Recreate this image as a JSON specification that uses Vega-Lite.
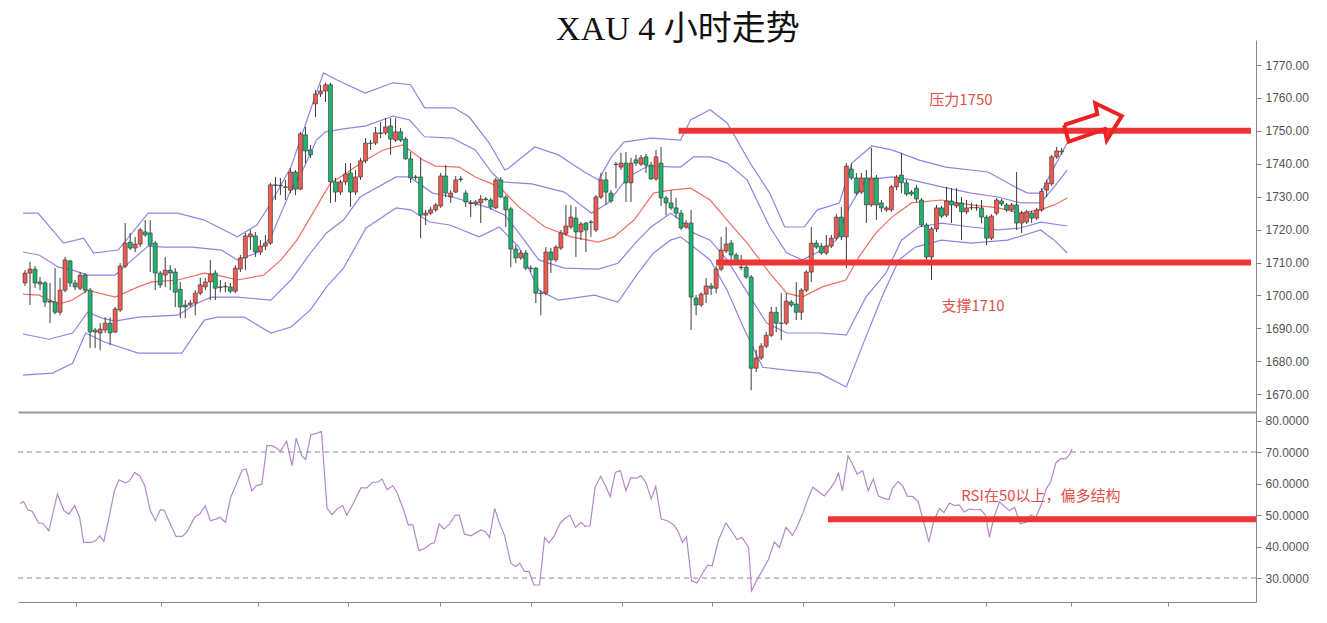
{
"$schema":"https://vega.github.io/schema/vega-lite/v6.json",
"background":"white",
"padding":{"left":17,"top":13,"right":0,"bottom":0},
"title":{"text":"XAU 4 小时走势","fontSize":34,"font":"Liberation Serif, Noto Sans CJK SC","fontWeight":"normal","color":"#111","anchor":"middle","offset":-7,"dx":15},
"spacing":0,
"config":{"view":{"stroke":null},"axis":{"labelFontSize":12,"labelFont":"Liberation Sans","labelColor":"#555","tickColor":"#888","domainColor":"#888","grid":false,"title":null,"labelPadding":4,"tickSize":5}},
"datasets":{
"candles":[
{"i":0,"o":1703.8,"h":1707.7,"l":1702.9,"c":1706.8},{"i":1,"o":1706.8,"h":1710.2,"l":1697.1,"c":1708.0},{"i":2,"o":1708.0,"h":1708.9,"l":1702.3,"c":1703.8},{"i":3,"o":1704.1,"h":1705.6,"l":1701.6,"c":1703.5},{"i":4,"o":1703.8,"h":1704.4,"l":1696.5,"c":1698.0},{"i":5,"o":1698.3,"h":1703.8,"l":1691.6,"c":1698.0},{"i":6,"o":1698.0,"h":1708.3,"l":1694.3,"c":1694.9},{"i":7,"o":1694.9,"h":1705.3,"l":1694.0,"c":1701.6},{"i":8,"o":1701.6,"h":1711.7,"l":1701.0,"c":1710.8},{"i":9,"o":1710.5,"h":1710.8,"l":1702.6,"c":1703.8},
{"i":10,"o":1703.8,"h":1704.7,"l":1701.6,"c":1702.6},{"i":11,"o":1702.2,"h":1707.1,"l":1701.6,"c":1706.2},{"i":12,"o":1706.2,"h":1706.8,"l":1700.7,"c":1701.6},{"i":13,"o":1701.6,"h":1702.3,"l":1684.0,"c":1688.9},{"i":14,"o":1689.5,"h":1690.1,"l":1684.0,"c":1688.9},{"i":15,"o":1688.6,"h":1691.6,"l":1683.4,"c":1689.8},{"i":16,"o":1689.5,"h":1693.4,"l":1688.6,"c":1691.6},{"i":17,"o":1691.6,"h":1693.4,"l":1684.9,"c":1688.6},{"i":18,"o":1688.9,"h":1696.5,"l":1688.6,"c":1695.9},{"i":19,"o":1695.6,"h":1709.8,"l":1695.0,"c":1708.9},
{"i":20,"o":1708.9,"h":1722.0,"l":1708.3,"c":1715.9},{"i":21,"o":1716.2,"h":1719.0,"l":1713.8,"c":1714.4},{"i":22,"o":1714.4,"h":1717.8,"l":1713.2,"c":1715.6},{"i":23,"o":1715.6,"h":1720.5,"l":1714.7,"c":1719.9},{"i":24,"o":1719.3,"h":1722.9,"l":1717.8,"c":1718.4},{"i":25,"o":1719.0,"h":1722.9,"l":1707.1,"c":1715.3},{"i":26,"o":1715.9,"h":1716.5,"l":1701.6,"c":1706.8},{"i":27,"o":1706.8,"h":1707.4,"l":1702.3,"c":1703.2},{"i":28,"o":1706.2,"h":1711.7,"l":1702.6,"c":1707.7},{"i":29,"o":1707.7,"h":1709.2,"l":1701.6,"c":1706.8},
{"i":30,"o":1707.1,"h":1708.3,"l":1696.5,"c":1701.0},{"i":31,"o":1701.9,"h":1704.1,"l":1693.1,"c":1696.5},{"i":32,"o":1697.1,"h":1698.6,"l":1693.1,"c":1696.5},{"i":33,"o":1697.1,"h":1698.6,"l":1696.5,"c":1697.7},{"i":34,"o":1697.7,"h":1701.6,"l":1694.0,"c":1700.7},{"i":35,"o":1700.7,"h":1705.3,"l":1700.1,"c":1703.2},{"i":36,"o":1702.6,"h":1705.3,"l":1701.6,"c":1704.1},{"i":37,"o":1704.1,"h":1710.8,"l":1698.6,"c":1706.5},{"i":38,"o":1706.8,"h":1707.7,"l":1698.6,"c":1702.2},{"i":39,"o":1702.6,"h":1704.7,"l":1701.0,"c":1702.4},
{"i":40,"o":1702.6,"h":1704.1,"l":1701.0,"c":1702.8},{"i":41,"o":1702.6,"h":1703.8,"l":1700.7,"c":1701.3},{"i":42,"o":1701.3,"h":1709.2,"l":1700.7,"c":1708.3},{"i":43,"o":1708.0,"h":1712.3,"l":1707.1,"c":1711.4},{"i":44,"o":1711.4,"h":1719.0,"l":1707.7,"c":1718.1},{"i":45,"o":1717.8,"h":1719.9,"l":1713.8,"c":1718.7},{"i":46,"o":1718.1,"h":1719.3,"l":1711.7,"c":1713.2},{"i":47,"o":1713.2,"h":1716.8,"l":1712.3,"c":1715.0},{"i":48,"o":1715.0,"h":1718.4,"l":1713.8,"c":1715.9},{"i":49,"o":1715.9,"h":1734.2,"l":1715.3,"c":1733.6},
{"i":50,"o":1733.6,"h":1736.0,"l":1729.0,"c":1733.4},{"i":51,"o":1733.3,"h":1735.7,"l":1730.5,"c":1733.5},{"i":52,"o":1733.0,"h":1735.1,"l":1729.0,"c":1732.8},{"i":53,"o":1732.0,"h":1738.7,"l":1731.1,"c":1737.5},{"i":54,"o":1737.5,"h":1738.1,"l":1730.5,"c":1732.3},{"i":55,"o":1732.3,"h":1749.7,"l":1732.0,"c":1749.1},{"i":56,"o":1748.8,"h":1751.2,"l":1740.2,"c":1743.9},{"i":57,"o":1744.2,"h":1745.7,"l":1741.8,"c":1742.7},{"i":58,"o":1758.2,"h":1762.4,"l":1754.2,"c":1761.2},{"i":59,"o":1761.2,"h":1764.0,"l":1760.3,"c":1762.1},
{"i":60,"o":1762.1,"h":1764.6,"l":1758.8,"c":1764.0},{"i":61,"o":1764.0,"h":1764.6,"l":1728.1,"c":1734.5},{"i":62,"o":1734.5,"h":1735.7,"l":1728.4,"c":1731.4},{"i":63,"o":1731.4,"h":1735.1,"l":1730.5,"c":1734.5},{"i":64,"o":1734.5,"h":1740.2,"l":1733.6,"c":1736.9},{"i":65,"o":1737.2,"h":1740.2,"l":1726.9,"c":1731.4},{"i":66,"o":1731.4,"h":1738.1,"l":1730.5,"c":1736.0},{"i":67,"o":1736.0,"h":1741.8,"l":1735.1,"c":1740.9},{"i":68,"o":1740.9,"h":1747.8,"l":1740.2,"c":1746.3},{"i":69,"o":1746.3,"h":1747.2,"l":1744.2,"c":1746.2},
{"i":70,"o":1746.3,"h":1751.2,"l":1745.7,"c":1749.4},{"i":71,"o":1749.4,"h":1752.7,"l":1747.8,"c":1749.2},{"i":72,"o":1749.4,"h":1753.9,"l":1748.8,"c":1751.2},{"i":73,"o":1751.5,"h":1753.9,"l":1742.7,"c":1747.5},{"i":74,"o":1747.2,"h":1753.9,"l":1746.6,"c":1749.7},{"i":75,"o":1749.7,"h":1750.9,"l":1746.6,"c":1747.2},{"i":76,"o":1747.5,"h":1748.1,"l":1741.2,"c":1741.5},{"i":77,"o":1741.5,"h":1743.6,"l":1734.2,"c":1735.7},{"i":78,"o":1736.0,"h":1736.6,"l":1735.1,"c":1735.8},{"i":79,"o":1736.0,"h":1741.8,"l":1717.4,"c":1724.4},
{"i":80,"o":1724.4,"h":1726.0,"l":1721.4,"c":1725.0},{"i":81,"o":1725.0,"h":1726.9,"l":1724.4,"c":1726.0},{"i":82,"o":1726.0,"h":1728.1,"l":1725.4,"c":1727.5},{"i":83,"o":1727.2,"h":1737.2,"l":1726.6,"c":1736.3},{"i":84,"o":1736.3,"h":1739.6,"l":1729.9,"c":1731.1},{"i":85,"o":1729.9,"h":1732.0,"l":1728.1,"c":1731.1},{"i":86,"o":1731.4,"h":1736.3,"l":1731.1,"c":1735.1},{"i":87,"o":1735.4,"h":1736.3,"l":1734.5,"c":1735.2},{"i":88,"o":1731.1,"h":1732.0,"l":1726.9,"c":1728.4},{"i":89,"o":1728.1,"h":1729.0,"l":1723.8,"c":1727.9},
{"i":90,"o":1727.8,"h":1729.0,"l":1727.2,"c":1728.4},{"i":91,"o":1728.1,"h":1730.5,"l":1722.0,"c":1729.3},{"i":92,"o":1729.3,"h":1729.9,"l":1728.7,"c":1729.1},{"i":93,"o":1729.0,"h":1729.6,"l":1726.0,"c":1726.9},{"i":94,"o":1726.6,"h":1735.7,"l":1726.3,"c":1735.1},{"i":95,"o":1735.1,"h":1736.0,"l":1729.6,"c":1729.9},{"i":96,"o":1729.9,"h":1730.5,"l":1720.8,"c":1726.0},{"i":97,"o":1726.3,"h":1726.9,"l":1708.6,"c":1714.1},{"i":98,"o":1714.1,"h":1715.3,"l":1709.8,"c":1711.4},{"i":99,"o":1711.4,"h":1713.8,"l":1710.8,"c":1712.9},
{"i":100,"o":1712.9,"h":1713.8,"l":1707.7,"c":1708.3},{"i":101,"o":1708.3,"h":1709.2,"l":1707.1,"c":1708.2},{"i":102,"o":1708.3,"h":1708.6,"l":1697.7,"c":1700.7},{"i":103,"o":1700.7,"h":1701.6,"l":1694.0,"c":1700.6},{"i":104,"o":1700.7,"h":1714.7,"l":1700.1,"c":1713.2},{"i":105,"o":1713.2,"h":1714.4,"l":1706.8,"c":1710.8},{"i":106,"o":1710.8,"h":1715.3,"l":1710.2,"c":1714.7},{"i":107,"o":1714.4,"h":1719.9,"l":1713.8,"c":1719.0},{"i":108,"o":1718.7,"h":1727.5,"l":1718.1,"c":1721.1},{"i":109,"o":1720.8,"h":1727.5,"l":1720.2,"c":1723.8},
{"i":110,"o":1723.5,"h":1726.9,"l":1711.7,"c":1719.3},{"i":111,"o":1719.3,"h":1722.3,"l":1716.8,"c":1721.7},{"i":112,"o":1722.0,"h":1722.3,"l":1713.2,"c":1719.9},{"i":113,"o":1722.3,"h":1722.9,"l":1717.8,"c":1722.2},{"i":114,"o":1719.9,"h":1730.5,"l":1719.3,"c":1729.9},{"i":115,"o":1729.9,"h":1737.2,"l":1729.3,"c":1735.1},{"i":116,"o":1735.1,"h":1737.5,"l":1727.5,"c":1731.4},{"i":117,"o":1731.1,"h":1732.0,"l":1728.1,"c":1728.7},{"i":118,"o":1739.9,"h":1740.6,"l":1732.6,"c":1739.8},{"i":119,"o":1739.0,"h":1743.3,"l":1738.1,"c":1740.2},
{"i":120,"o":1740.2,"h":1743.6,"l":1728.4,"c":1734.2},{"i":121,"o":1734.2,"h":1741.8,"l":1728.4,"c":1740.2},{"i":122,"o":1741.2,"h":1742.7,"l":1739.3,"c":1740.2},{"i":123,"o":1739.9,"h":1742.7,"l":1739.3,"c":1741.8},{"i":124,"o":1742.1,"h":1743.0,"l":1737.2,"c":1739.6},{"i":125,"o":1739.6,"h":1740.6,"l":1735.1,"c":1735.4},{"i":126,"o":1735.4,"h":1744.2,"l":1734.8,"c":1742.1},{"i":127,"o":1740.2,"h":1745.1,"l":1727.2,"c":1729.6},{"i":128,"o":1729.6,"h":1730.2,"l":1724.4,"c":1728.1},{"i":129,"o":1728.1,"h":1732.0,"l":1726.0,"c":1726.6},
{"i":130,"o":1726.6,"h":1729.6,"l":1723.5,"c":1725.0},{"i":131,"o":1725.0,"h":1726.0,"l":1719.9,"c":1720.5},{"i":132,"o":1720.8,"h":1722.9,"l":1720.2,"c":1722.0},{"i":133,"o":1722.0,"h":1726.0,"l":1689.5,"c":1699.5},{"i":134,"o":1699.2,"h":1700.1,"l":1694.0,"c":1697.1},{"i":135,"o":1697.1,"h":1701.0,"l":1696.5,"c":1700.4},{"i":136,"o":1700.4,"h":1705.3,"l":1697.7,"c":1702.9},{"i":137,"o":1702.9,"h":1703.8,"l":1700.1,"c":1702.2},{"i":138,"o":1702.2,"h":1708.9,"l":1700.7,"c":1708.0},{"i":139,"o":1708.0,"h":1717.8,"l":1707.4,"c":1713.8},
{"i":140,"o":1713.5,"h":1720.8,"l":1712.9,"c":1715.6},{"i":141,"o":1715.9,"h":1716.8,"l":1710.8,"c":1712.3},{"i":142,"o":1712.3,"h":1712.9,"l":1709.2,"c":1709.8},{"i":143,"o":1708.6,"h":1712.3,"l":1707.7,"c":1708.5},{"i":144,"o":1708.6,"h":1709.2,"l":1705.0,"c":1705.6},{"i":145,"o":1705.6,"h":1706.2,"l":1671.2,"c":1677.9},{"i":146,"o":1677.9,"h":1683.4,"l":1676.7,"c":1681.0},{"i":147,"o":1681.0,"h":1685.5,"l":1680.4,"c":1684.6},{"i":148,"o":1684.6,"h":1688.9,"l":1684.0,"c":1687.9},{"i":149,"o":1687.9,"h":1696.5,"l":1687.4,"c":1694.9},
{"i":150,"o":1694.9,"h":1696.5,"l":1688.9,"c":1691.6},{"i":151,"o":1691.6,"h":1700.7,"l":1686.4,"c":1691.5},{"i":152,"o":1691.6,"h":1700.7,"l":1691.0,"c":1698.3},{"i":153,"o":1698.0,"h":1698.6,"l":1696.5,"c":1697.1},{"i":154,"o":1697.4,"h":1704.1,"l":1692.5,"c":1694.9},{"i":155,"o":1694.9,"h":1702.2,"l":1692.5,"c":1701.6},{"i":156,"o":1701.6,"h":1707.7,"l":1701.0,"c":1707.1},{"i":157,"o":1707.1,"h":1720.8,"l":1704.1,"c":1715.9},{"i":158,"o":1715.9,"h":1716.8,"l":1714.1,"c":1714.7},{"i":159,"o":1715.0,"h":1715.9,"l":1712.3,"c":1712.9},
{"i":160,"o":1712.9,"h":1718.4,"l":1712.3,"c":1715.0},{"i":161,"o":1715.0,"h":1718.4,"l":1714.4,"c":1717.4},{"i":162,"o":1717.4,"h":1724.7,"l":1716.8,"c":1723.8},{"i":163,"o":1723.8,"h":1726.9,"l":1716.8,"c":1717.8},{"i":164,"o":1717.8,"h":1740.2,"l":1708.3,"c":1739.3},{"i":165,"o":1738.4,"h":1740.2,"l":1735.1,"c":1735.7},{"i":166,"o":1735.7,"h":1737.2,"l":1730.5,"c":1731.1},{"i":167,"o":1731.4,"h":1737.2,"l":1730.8,"c":1735.7},{"i":168,"o":1735.7,"h":1738.1,"l":1722.0,"c":1727.5},{"i":169,"o":1727.5,"h":1744.8,"l":1726.9,"c":1735.7},
{"i":170,"o":1735.7,"h":1736.6,"l":1722.9,"c":1727.5},{"i":171,"o":1728.1,"h":1729.0,"l":1725.4,"c":1726.6},{"i":172,"o":1726.0,"h":1727.2,"l":1725.4,"c":1726.6},{"i":173,"o":1726.0,"h":1733.6,"l":1725.4,"c":1733.0},{"i":174,"o":1733.0,"h":1736.6,"l":1732.0,"c":1736.0},{"i":175,"o":1736.6,"h":1743.3,"l":1731.1,"c":1734.2},{"i":176,"o":1734.2,"h":1735.1,"l":1730.2,"c":1730.8},{"i":177,"o":1731.4,"h":1732.0,"l":1730.2,"c":1730.8},{"i":178,"o":1732.6,"h":1733.6,"l":1728.4,"c":1729.3},{"i":179,"o":1729.0,"h":1729.6,"l":1720.8,"c":1721.4},
{"i":180,"o":1721.4,"h":1722.0,"l":1710.8,"c":1711.7},{"i":181,"o":1711.7,"h":1720.8,"l":1704.7,"c":1720.2},{"i":182,"o":1720.2,"h":1727.5,"l":1719.3,"c":1726.6},{"i":183,"o":1726.6,"h":1727.2,"l":1723.5,"c":1724.1},{"i":184,"o":1724.4,"h":1733.0,"l":1723.8,"c":1728.7},{"i":185,"o":1728.7,"h":1732.6,"l":1722.0,"c":1727.5},{"i":186,"o":1727.2,"h":1732.6,"l":1726.6,"c":1728.1},{"i":187,"o":1728.1,"h":1729.9,"l":1716.8,"c":1725.4},{"i":188,"o":1725.4,"h":1729.0,"l":1724.7,"c":1726.6},{"i":189,"o":1726.6,"h":1728.1,"l":1726.0,"c":1726.7},
{"i":190,"o":1726.6,"h":1727.8,"l":1725.7,"c":1726.7},{"i":191,"o":1726.6,"h":1729.0,"l":1722.0,"c":1723.8},{"i":192,"o":1723.8,"h":1724.4,"l":1715.3,"c":1717.4},{"i":193,"o":1717.4,"h":1724.7,"l":1716.8,"c":1724.1},{"i":194,"o":1725.0,"h":1729.6,"l":1724.4,"c":1729.0},{"i":195,"o":1728.7,"h":1729.3,"l":1727.2,"c":1727.8},{"i":196,"o":1727.5,"h":1728.1,"l":1725.4,"c":1726.0},{"i":197,"o":1726.0,"h":1728.1,"l":1725.4,"c":1727.5},{"i":198,"o":1727.5,"h":1737.5,"l":1719.9,"c":1722.0},{"i":199,"o":1722.0,"h":1725.7,"l":1719.0,"c":1725.0},
{"i":200,"o":1722.3,"h":1726.0,"l":1721.7,"c":1725.4},{"i":201,"o":1725.0,"h":1725.7,"l":1722.0,"c":1723.5},{"i":202,"o":1723.5,"h":1726.6,"l":1722.9,"c":1726.0},{"i":203,"o":1726.0,"h":1732.6,"l":1725.4,"c":1731.6},{"i":204,"o":1732.0,"h":1735.1,"l":1729.9,"c":1734.2},{"i":205,"o":1733.9,"h":1742.7,"l":1733.3,"c":1742.1},{"i":206,"o":1742.1,"h":1745.1,"l":1741.5,"c":1743.9},{"i":207,"o":1743.6,"h":1744.8,"l":1742.7,"c":1743.9}
],
"bands":[
{"b":"u2","i":-0.4,"v":1725.0},{"b":"u2","i":2.6,"v":1725.0},{"b":"u2","i":7.7,"v":1715.9},{"b":"u2","i":11.7,"v":1717.4},{"b":"u2","i":13.7,"v":1712.9},{"b":"u2","i":18.6,"v":1713.8},{"b":"u2","i":24.6,"v":1725.0},{"b":"u2","i":30.5,"v":1725.0},{"b":"u2","i":35.8,"v":1722.9},{"b":"u2","i":42.4,"v":1717.8},{"b":"u2","i":46.3,"v":1721.4},{"b":"u2","i":49.1,"v":1728.1},{"b":"u2","i":53.1,"v":1739.0},{"b":"u2","i":57.0,"v":1756.4},{"b":"u2","i":59.6,"v":1767.6},{"b":"u2","i":62.2,"v":1765.5},{"b":"u2","i":67.9,"v":1761.5},{"b":"u2","i":73.5,"v":1764.6},{"b":"u2","i":77.0,"v":1764.0},{"b":"u2","i":79.8,"v":1757.0},{"b":"u2","i":85.7,"v":1757.0},{"b":"u2","i":88.7,"v":1754.2},{"b":"u2","i":92.7,"v":1746.3},{"b":"u2","i":95.8,"v":1738.1},{"b":"u2","i":96.6,"v":1738.7},{"b":"u2","i":101.8,"v":1745.1},{"b":"u2","i":106.5,"v":1742.7},{"b":"u2","i":111.7,"v":1737.5},{"b":"u2","i":114.5,"v":1735.1},{"b":"u2","i":117.1,"v":1742.1},{"b":"u2","i":119.6,"v":1746.6},{"b":"u2","i":125.0,"v":1747.8},{"b":"u2","i":130.9,"v":1747.2},{"b":"u2","i":132.9,"v":1753.3},{"b":"u2","i":136.8,"v":1756.4},{"b":"u2","i":140.2,"v":1752.4},{"b":"u2","i":144.8,"v":1740.2},{"b":"u2","i":148.7,"v":1731.1},{"b":"u2","i":151.7,"v":1720.8},{"b":"u2","i":155.6,"v":1720.8},{"b":"u2","i":158.2,"v":1726.0},{"b":"u2","i":162.6,"v":1728.1},{"b":"u2","i":165.1,"v":1740.2},{"b":"u2","i":169.1,"v":1745.4},{"b":"u2","i":173.1,"v":1744.2},{"b":"u2","i":178.4,"v":1741.2},{"b":"u2","i":183.8,"v":1739.0},{"b":"u2","i":192.3,"v":1737.5},{"b":"u2","i":197.6,"v":1733.0},{"b":"u2","i":200.2,"v":1731.1},{"b":"u2","i":202.8,"v":1731.1},{"b":"u2","i":205.5,"v":1739.0},{"b":"u2","i":208.1,"v":1746.3},
{"b":"u1","i":-0.4,"v":1713.2},{"b":"u1","i":2.8,"v":1712.3},{"b":"u1","i":6.7,"v":1708.6},{"b":"u1","i":9.5,"v":1707.7},{"b":"u1","i":12.5,"v":1706.2},{"b":"u1","i":18.0,"v":1706.2},{"b":"u1","i":21.4,"v":1710.8},{"b":"u1","i":24.6,"v":1715.0},{"b":"u1","i":27.9,"v":1714.7},{"b":"u1","i":33.3,"v":1714.7},{"b":"u1","i":39.2,"v":1713.8},{"b":"u1","i":42.4,"v":1710.8},{"b":"u1","i":46.3,"v":1712.9},{"b":"u1","i":49.1,"v":1717.8},{"b":"u1","i":53.1,"v":1732.0},{"b":"u1","i":55.2,"v":1737.2},{"b":"u1","i":58.2,"v":1747.2},{"b":"u1","i":60.0,"v":1749.7},{"b":"u1","i":63.6,"v":1750.6},{"b":"u1","i":68.1,"v":1751.5},{"b":"u1","i":73.5,"v":1754.5},{"b":"u1","i":76.8,"v":1753.3},{"b":"u1","i":79.8,"v":1748.2},{"b":"u1","i":85.3,"v":1747.8},{"b":"u1","i":89.9,"v":1744.2},{"b":"u1","i":93.3,"v":1737.2},{"b":"u1","i":95.2,"v":1734.5},{"b":"u1","i":101.2,"v":1733.9},{"b":"u1","i":107.7,"v":1731.4},{"b":"u1","i":113.1,"v":1725.0},{"b":"u1","i":116.4,"v":1728.1},{"b":"u1","i":120.4,"v":1736.0},{"b":"u1","i":124.4,"v":1739.3},{"b":"u1","i":130.9,"v":1739.0},{"b":"u1","i":133.5,"v":1742.1},{"b":"u1","i":136.8,"v":1742.1},{"b":"u1","i":140.2,"v":1740.2},{"b":"u1","i":144.2,"v":1735.1},{"b":"u1","i":148.7,"v":1720.8},{"b":"u1","i":152.1,"v":1712.9},{"b":"u1","i":155.2,"v":1710.8},{"b":"u1","i":158.0,"v":1712.9},{"b":"u1","i":162.0,"v":1716.8},{"b":"u1","i":164.6,"v":1726.9},{"b":"u1","i":167.9,"v":1735.1},{"b":"u1","i":173.1,"v":1736.0},{"b":"u1","i":177.0,"v":1735.1},{"b":"u1","i":183.0,"v":1733.0},{"b":"u1","i":188.9,"v":1731.1},{"b":"u1","i":194.3,"v":1729.9},{"b":"u1","i":198.8,"v":1728.1},{"b":"u1","i":202.8,"v":1728.1},{"b":"u1","i":205.5,"v":1733.0},{"b":"u1","i":208.1,"v":1738.1},
{"b":"m","i":-0.4,"v":1700.4},{"b":"m","i":2.8,"v":1700.1},{"b":"m","i":6.7,"v":1697.4},{"b":"m","i":9.5,"v":1698.6},{"b":"m","i":12.5,"v":1701.6},{"b":"m","i":18.0,"v":1699.5},{"b":"m","i":22.6,"v":1702.6},{"b":"m","i":25.3,"v":1704.1},{"b":"m","i":30.5,"v":1704.7},{"b":"m","i":35.8,"v":1706.8},{"b":"m","i":38.4,"v":1706.2},{"b":"m","i":42.4,"v":1704.7},{"b":"m","i":47.7,"v":1706.2},{"b":"m","i":51.1,"v":1710.8},{"b":"m","i":54.3,"v":1716.8},{"b":"m","i":58.2,"v":1726.9},{"b":"m","i":61.0,"v":1734.2},{"b":"m","i":63.6,"v":1736.6},{"b":"m","i":68.1,"v":1741.2},{"b":"m","i":71.5,"v":1744.2},{"b":"m","i":75.4,"v":1745.7},{"b":"m","i":79.4,"v":1741.2},{"b":"m","i":82.0,"v":1739.3},{"b":"m","i":86.7,"v":1739.0},{"b":"m","i":89.9,"v":1736.0},{"b":"m","i":94.7,"v":1733.0},{"b":"m","i":98.6,"v":1726.9},{"b":"m","i":103.8,"v":1720.8},{"b":"m","i":109.1,"v":1717.8},{"b":"m","i":114.5,"v":1716.2},{"b":"m","i":117.6,"v":1717.8},{"b":"m","i":121.6,"v":1722.9},{"b":"m","i":125.5,"v":1731.1},{"b":"m","i":128.9,"v":1732.0},{"b":"m","i":132.9,"v":1732.6},{"b":"m","i":136.8,"v":1729.0},{"b":"m","i":140.2,"v":1722.9},{"b":"m","i":144.2,"v":1715.9},{"b":"m","i":148.7,"v":1706.8},{"b":"m","i":152.1,"v":1700.7},{"b":"m","i":155.2,"v":1699.5},{"b":"m","i":159.2,"v":1702.6},{"b":"m","i":163.9,"v":1704.7},{"b":"m","i":166.5,"v":1711.7},{"b":"m","i":169.9,"v":1719.0},{"b":"m","i":173.1,"v":1723.8},{"b":"m","i":177.0,"v":1728.1},{"b":"m","i":183.0,"v":1729.0},{"b":"m","i":188.9,"v":1727.5},{"b":"m","i":194.3,"v":1726.6},{"b":"m","i":198.8,"v":1725.0},{"b":"m","i":202.8,"v":1726.0},{"b":"m","i":205.5,"v":1727.5},{"b":"m","i":208.1,"v":1729.6},
{"b":"d1","i":-0.4,"v":1688.3},{"b":"d1","i":4.8,"v":1686.7},{"b":"d1","i":9.5,"v":1688.6},{"b":"d1","i":12.5,"v":1694.9},{"b":"d1","i":15.4,"v":1693.1},{"b":"d1","i":18.0,"v":1692.2},{"b":"d1","i":22.6,"v":1693.4},{"b":"d1","i":30.5,"v":1694.0},{"b":"d1","i":34.5,"v":1697.7},{"b":"d1","i":37.2,"v":1699.5},{"b":"d1","i":42.4,"v":1699.5},{"b":"d1","i":49.1,"v":1698.6},{"b":"d1","i":53.1,"v":1704.7},{"b":"d1","i":57.0,"v":1712.9},{"b":"d1","i":60.2,"v":1719.0},{"b":"d1","i":63.6,"v":1722.9},{"b":"d1","i":66.9,"v":1729.9},{"b":"d1","i":74.1,"v":1736.0},{"b":"d1","i":76.8,"v":1736.0},{"b":"d1","i":81.4,"v":1731.1},{"b":"d1","i":85.3,"v":1729.9},{"b":"d1","i":92.7,"v":1726.6},{"b":"d1","i":95.8,"v":1724.4},{"b":"d1","i":98.6,"v":1719.0},{"b":"d1","i":102.6,"v":1710.8},{"b":"d1","i":107.7,"v":1708.3},{"b":"d1","i":114.5,"v":1708.0},{"b":"d1","i":118.4,"v":1709.8},{"b":"d1","i":122.4,"v":1716.8},{"b":"d1","i":125.0,"v":1720.8},{"b":"d1","i":128.9,"v":1725.0},{"b":"d1","i":130.9,"v":1722.9},{"b":"d1","i":133.5,"v":1719.0},{"b":"d1","i":136.8,"v":1716.8},{"b":"d1","i":140.2,"v":1710.8},{"b":"d1","i":144.8,"v":1699.5},{"b":"d1","i":148.1,"v":1691.6},{"b":"d1","i":152.1,"v":1688.6},{"b":"d1","i":158.6,"v":1688.6},{"b":"d1","i":164.0,"v":1688.0},{"b":"d1","i":167.9,"v":1699.5},{"b":"d1","i":171.9,"v":1706.8},{"b":"d1","i":175.0,"v":1716.8},{"b":"d1","i":178.4,"v":1720.8},{"b":"d1","i":183.0,"v":1722.0},{"b":"d1","i":188.9,"v":1720.8},{"b":"d1","i":194.3,"v":1719.9},{"b":"d1","i":198.8,"v":1720.5},{"b":"d1","i":202.8,"v":1722.3},{"b":"d1","i":208.1,"v":1721.1},
{"b":"d2","i":-0.4,"v":1675.8},{"b":"d2","i":5.5,"v":1676.4},{"b":"d2","i":9.5,"v":1679.4},{"b":"d2","i":12.1,"v":1688.6},{"b":"d2","i":16.0,"v":1685.8},{"b":"d2","i":22.6,"v":1682.5},{"b":"d2","i":31.3,"v":1682.5},{"b":"d2","i":35.8,"v":1692.5},{"b":"d2","i":38.4,"v":1693.4},{"b":"d2","i":43.8,"v":1693.4},{"b":"d2","i":49.1,"v":1688.6},{"b":"d2","i":53.1,"v":1690.4},{"b":"d2","i":57.0,"v":1695.6},{"b":"d2","i":60.2,"v":1702.6},{"b":"d2","i":63.6,"v":1708.3},{"b":"d2","i":68.1,"v":1720.5},{"b":"d2","i":74.1,"v":1726.6},{"b":"d2","i":77.0,"v":1726.0},{"b":"d2","i":80.8,"v":1722.3},{"b":"d2","i":84.8,"v":1721.4},{"b":"d2","i":90.7,"v":1717.8},{"b":"d2","i":94.7,"v":1720.8},{"b":"d2","i":98.6,"v":1714.7},{"b":"d2","i":102.6,"v":1701.6},{"b":"d2","i":106.5,"v":1698.6},{"b":"d2","i":113.7,"v":1700.1},{"b":"d2","i":118.4,"v":1698.0},{"b":"d2","i":122.4,"v":1706.8},{"b":"d2","i":125.5,"v":1712.9},{"b":"d2","i":128.9,"v":1716.8},{"b":"d2","i":130.9,"v":1717.8},{"b":"d2","i":133.5,"v":1714.7},{"b":"d2","i":136.8,"v":1710.8},{"b":"d2","i":140.2,"v":1701.6},{"b":"d2","i":143.4,"v":1690.4},{"b":"d2","i":147.3,"v":1678.2},{"b":"d2","i":152.1,"v":1677.3},{"b":"d2","i":158.6,"v":1676.4},{"b":"d2","i":164.0,"v":1672.2},{"b":"d2","i":167.1,"v":1684.3},{"b":"d2","i":171.1,"v":1699.5},{"b":"d2","i":174.5,"v":1710.8},{"b":"d2","i":177.8,"v":1714.7},{"b":"d2","i":183.0,"v":1716.8},{"b":"d2","i":188.9,"v":1715.9},{"b":"d2","i":196.2,"v":1716.8},{"b":"d2","i":202.8,"v":1719.9},{"b":"d2","i":205.5,"v":1716.8},{"b":"d2","i":208.1,"v":1712.9}
],
"rsi":[
{"i":0,"r":53.7},{"i":0.7,"r":54.2},{"i":1.6,"r":51.6},{"i":2.4,"r":51.2},{"i":3.7,"r":47.4},{"i":4.5,"r":47.4},{"i":5.7,"r":45.0},{"i":7.4,"r":56.7},{"i":8.7,"r":51.4},{"i":9.7,"r":50.3},{"i":10.8,"r":53.0},{"i":11.8,"r":49.3},{"i":12.6,"r":41.3},{"i":14.1,"r":41.3},{"i":15.0,"r":41.9},{"i":15.8,"r":43.4},{"i":16.6,"r":41.6},{"i":17.7,"r":49.8},{"i":18.7,"r":57.7},{"i":19.6,"r":61.2},{"i":20.8,"r":60.2},{"i":21.6,"r":60.7},{"i":22.7,"r":63.5},{"i":23.7,"r":62.5},{"i":24.7,"r":59.3},{"i":25.8,"r":51.4},{"i":26.8,"r":48.2},{"i":27.8,"r":51.7},{"i":28.6,"r":51.4},{"i":29.6,"r":47.7},{"i":30.9,"r":43.2},{"i":32.1,"r":43.2},{"i":33.0,"r":44.5},{"i":34.6,"r":49.3},{"i":35.6,"r":50.3},{"i":36.7,"r":53.0},{"i":37.7,"r":48.2},{"i":38.8,"r":48.7},{"i":39.6,"r":49.3},{"i":40.7,"r":47.7},{"i":41.7,"r":55.6},{"i":43.0,"r":60.4},{"i":44.0,"r":64.3},{"i":44.8,"r":64.6},{"i":45.9,"r":57.7},{"i":46.8,"r":59.3},{"i":47.9,"r":59.8},{"i":48.9,"r":72.0},{"i":49.9,"r":72.0},{"i":50.8,"r":71.3},{"i":51.6,"r":70.2},{"i":52.8,"r":73.4},{"i":53.9,"r":65.7},{"i":54.7,"r":74.4},{"i":55.8,"r":68.8},{"i":56.6,"r":67.6},{"i":57.6,"r":75.5},{"i":58.7,"r":75.9},{"i":59.7,"r":76.5},{"i":60.8,"r":52.2},{"i":61.8,"r":50.1},{"i":62.9,"r":52.1},{"i":63.9,"r":53.0},{"i":64.7,"r":50.0},{"i":65.8,"r":53.0},{"i":67.5,"r":58.6},{"i":68.7,"r":58.6},{"i":69.8,"r":60.4},{"i":70.8,"r":60.4},{"i":71.7,"r":61.4},{"i":72.7,"r":58.0},{"i":73.8,"r":59.3},{"i":74.6,"r":57.4},{"i":75.9,"r":51.9},{"i":76.9,"r":46.9},{"i":77.8,"r":46.9},{"i":79.0,"r":38.7},{"i":80.1,"r":39.4},{"i":81.3,"r":40.8},{"i":82.1,"r":41.3},{"i":83.0,"r":47.2},{"i":84.0,"r":45.6},{"i":85.1,"r":47.2},{"i":86.2,"r":50.0},{"i":87.0,"r":50.0},{"i":88.0,"r":44.0},{"i":89.3,"r":43.4},{"i":90.5,"r":44.5},{"i":91.3,"r":45.3},{"i":92.2,"r":44.7},{"i":93.0,"r":42.9},{"i":94.0,"r":52.1},{"i":94.9,"r":47.7},{"i":96.0,"r":43.4},{"i":97.2,"r":34.7},{"i":98.2,"r":33.7},{"i":99.0,"r":34.7},{"i":99.9,"r":32.1},{"i":100.8,"r":32.1},{"i":101.8,"r":27.8},{"i":102.9,"r":27.8},{"i":103.9,"r":42.9},{"i":104.8,"r":41.1},{"i":105.8,"r":43.4},{"i":106.9,"r":47.2},{"i":107.9,"r":48.9},{"i":108.9,"r":50.0},{"i":110.0,"r":46.1},{"i":111.1,"r":47.7},{"i":111.9,"r":46.4},{"i":112.9,"r":46.6},{"i":113.9,"r":58.8},{"i":115.0,"r":62.3},{"i":116.1,"r":58.8},{"i":116.9,"r":55.9},{"i":117.9,"r":63.5},{"i":118.9,"r":64.1},{"i":120.0,"r":57.7},{"i":121.0,"r":61.9},{"i":122.1,"r":61.7},{"i":123.0,"r":62.5},{"i":124.0,"r":60.2},{"i":125.0,"r":55.1},{"i":125.9,"r":59.1},{"i":127.0,"r":48.7},{"i":128.2,"r":48.2},{"i":129.5,"r":46.8},{"i":130.3,"r":45.0},{"i":131.2,"r":41.3},{"i":132.0,"r":43.1},{"i":133.0,"r":29.1},{"i":134.1,"r":28.4},{"i":135.2,"r":31.6},{"i":136.2,"r":34.1},{"i":137.1,"r":33.9},{"i":138.3,"r":41.9},{"i":139.8,"r":47.5},{"i":140.9,"r":45.0},{"i":142.0,"r":42.2},{"i":143.0,"r":42.9},{"i":144.3,"r":39.7},{"i":144.9,"r":26.0},{"i":146.0,"r":29.5},{"i":147.2,"r":32.9},{"i":148.2,"r":35.8},{"i":149.4,"r":41.5},{"i":150.4,"r":39.7},{"i":151.7,"r":46.1},{"i":153.0,"r":43.6},{"i":154.0,"r":46.6},{"i":155.1,"r":50.8},{"i":155.9,"r":54.5},{"i":157.0,"r":58.8},{"i":158.2,"r":57.4},{"i":159.3,"r":56.1},{"i":160.4,"r":58.2},{"i":161.4,"r":60.6},{"i":162.1,"r":63.3},{"i":162.9,"r":57.7},{"i":164.0,"r":68.8},{"i":165.0,"r":65.7},{"i":165.8,"r":63.0},{"i":166.9,"r":64.1},{"i":168.0,"r":57.7},{"i":169.0,"r":61.4},{"i":170.0,"r":56.1},{"i":171.1,"r":55.3},{"i":172.1,"r":54.9},{"i":172.8,"r":58.5},{"i":173.9,"r":60.6},{"i":174.8,"r":59.3},{"i":175.8,"r":55.9},{"i":176.8,"r":55.9},{"i":177.9,"r":54.2},{"i":179.0,"r":47.7},{"i":180.0,"r":41.5},{"i":181.0,"r":48.2},{"i":182.1,"r":52.1},{"i":183.0,"r":50.8},{"i":184.1,"r":53.8},{"i":185.1,"r":53.0},{"i":186.0,"r":53.2},{"i":187.0,"r":51.0},{"i":188.1,"r":51.9},{"i":189.3,"r":51.6},{"i":190.2,"r":51.9},{"i":191.2,"r":50.0},{"i":192.0,"r":42.9},{"i":192.9,"r":49.3},{"i":194.0,"r":54.2},{"i":194.8,"r":53.0},{"i":195.9,"r":51.4},{"i":197.0,"r":52.4},{"i":198.1,"r":47.2},{"i":199.3,"r":47.7},{"i":200.2,"r":50.0},{"i":201.2,"r":49.3},{"i":202.2,"r":53.0},{"i":203.3,"r":58.5},{"i":204.1,"r":60.4},{"i":205.2,"r":66.7},{"i":206.3,"r":68.0},{"i":207.1,"r":67.8},{"i":207.8,"r":69.0},{"i":208.4,"r":71.0}
],
"levels":[{"i1":130.5,"i2":244.8,"v":1750},{"i1":138.0,"i2":244.8,"v":1710}],
"notes":[{"t":"压力1750","i":186.9,"v":1759.4},{"t":"支撑1710","i":189.3,"v":1696.8}],
"arrow":[{"k":0,"i":207.5,"v":1751.8},{"k":1,"i":214.1,"v":1755.1},{"k":2,"i":213.7,"v":1758.4},{"k":3,"i":219.0,"v":1754.5},{"k":4,"i":216.0,"v":1747.2},{"k":5,"i":215.6,"v":1750.5},{"k":6,"i":208.4,"v":1746.7},{"k":7,"i":207.5,"v":1751.8}],
"rsiref":[{"lv":70},{"lv":30}],
"rsilevel":[{"i1":160.0,"i2":244.8,"r":48.7}],
"rsinote":[{"t":"RSI在50以上，偏多结构","i":202.2,"r":56.0}]
},
"vconcat":[
{
"width":1238,"height":372,
"layer":[
{"data":{"name":"bands"},"mark":{"type":"line","strokeWidth":1.2,"opacity":0.9},
 "encoding":{
  "x":{"field":"i","type":"quantitative","scale":{"domain":[-0.4,244.8],"nice":false,"zero":false},"axis":{"orient":"bottom","labels":false,"ticks":false,"domainColor":"#9a9a9a","domainWidth":2}},
  "y":{"field":"v","type":"quantitative","scale":{"domain":[1664.6,1777.6],"nice":false,"zero":false},"axis":{"orient":"right","values":[1670,1680,1690,1700,1710,1720,1730,1740,1750,1760,1770],"format":".2f"}},
  "color":{"field":"b","type":"nominal","scale":{"domain":["u2","u1","m","d1","d2"],"range":["#7f78e2","#7f78e2","#ef5f4f","#7f78e2","#7f78e2"]},"legend":null},
  "detail":{"field":"b"}
 }},
{"data":{"name":"candles"},"mark":{"type":"rule","color":"#3c3c3c","strokeWidth":1},
 "encoding":{
  "x":{"field":"i","type":"quantitative","scale":{"domain":[-0.4,244.8],"nice":false,"zero":false},"axis":{"orient":"bottom","labels":false,"ticks":false,"domainColor":"#9a9a9a","domainWidth":2}},
  "y":{"field":"l","type":"quantitative","scale":{"domain":[1664.6,1777.6],"nice":false,"zero":false},"axis":{"orient":"right","values":[1670,1680,1690,1700,1710,1720,1730,1740,1750,1760,1770],"format":".2f"}},
  "y2":{"field":"h"}
 }},
{"data":{"name":"candles"},"mark":{"type":"bar","width":4,"stroke":"#333","strokeWidth":0.6},
 "encoding":{
  "x":{"field":"i","type":"quantitative","scale":{"domain":[-0.4,244.8],"nice":false,"zero":false},"axis":{"orient":"bottom","labels":false,"ticks":false,"domainColor":"#9a9a9a","domainWidth":2}},
  "y":{"field":"o","type":"quantitative","scale":{"domain":[1664.6,1777.6],"nice":false,"zero":false},"axis":{"orient":"right","values":[1670,1680,1690,1700,1710,1720,1730,1740,1750,1760,1770],"format":".2f"}},
  "y2":{"field":"c"},
  "fill":{"condition":{"test":"datum.c >= datum.o","value":"#f05a50"},"value":"#1fb372"}
 }},
{"data":{"name":"levels"},"mark":{"type":"rule","color":"#ee3535","strokeWidth":6},
 "encoding":{
  "x":{"field":"i1","type":"quantitative","scale":{"domain":[-0.4,244.8],"nice":false,"zero":false},"axis":{"orient":"bottom","labels":false,"ticks":false,"domainColor":"#9a9a9a","domainWidth":2}},
  "x2":{"field":"i2"},
  "y":{"field":"v","type":"quantitative","scale":{"domain":[1664.6,1777.6],"nice":false,"zero":false},"axis":{"orient":"right","values":[1670,1680,1690,1700,1710,1720,1730,1740,1750,1760,1770],"format":".2f"}}
 }},
{"data":{"name":"notes"},"mark":{"type":"text","fontSize":15,"font":"Noto Sans CJK SC","color":"#e0504a","align":"center","baseline":"middle"},
 "encoding":{
  "x":{"field":"i","type":"quantitative","scale":{"domain":[-0.4,244.8],"nice":false,"zero":false},"axis":{"orient":"bottom","labels":false,"ticks":false,"domainColor":"#9a9a9a","domainWidth":2}},
  "y":{"field":"v","type":"quantitative","scale":{"domain":[1664.6,1777.6],"nice":false,"zero":false},"axis":{"orient":"right","values":[1670,1680,1690,1700,1710,1720,1730,1740,1750,1760,1770],"format":".2f"}},
  "text":{"field":"t"}
 }},
{"data":{"name":"arrow"},"mark":{"type":"line","color":"#ee2222","strokeWidth":4,"strokeJoin":"miter"},
 "encoding":{
  "x":{"field":"i","type":"quantitative","scale":{"domain":[-0.4,244.8],"nice":false,"zero":false},"axis":{"orient":"bottom","labels":false,"ticks":false,"domainColor":"#9a9a9a","domainWidth":2}},
  "y":{"field":"v","type":"quantitative","scale":{"domain":[1664.6,1777.6],"nice":false,"zero":false},"axis":{"orient":"right","values":[1670,1680,1690,1700,1710,1720,1730,1740,1750,1760,1770],"format":".2f"}},
  "order":{"field":"k","type":"quantitative"}
 }}
]
},
{
"width":1238,"height":190,
"layer":[
{"data":{"name":"rsiref"},"mark":{"type":"rule","color":"#888","strokeWidth":1,"strokeDash":[5,4]},
 "encoding":{
  "y":{"field":"lv","type":"quantitative","scale":{"domain":[22.4,82.7],"nice":false,"zero":false},"axis":{"orient":"right","values":[30,40,50,60,70,80],"format":".4f"}}
 }},
{"data":{"name":"rsi"},"mark":{"type":"line","color":"#b488c8","strokeWidth":1.2},
 "encoding":{
  "x":{"field":"i","type":"quantitative","scale":{"domain":[-0.4,244.8],"nice":false,"zero":false},"axis":{"orient":"bottom","values":[11.1,27.9,47.1,65.0,83.2,101.2,119.2,137.0,155.0,173.1,191.3,208.1,227.3],"labels":false,"tickSize":4}},
  "y":{"field":"r","type":"quantitative","scale":{"domain":[22.4,82.7],"nice":false,"zero":false},"axis":{"orient":"right","values":[30,40,50,60,70,80],"format":".4f"}}
 }},
{"data":{"name":"rsilevel"},"mark":{"type":"rule","color":"#ee3535","strokeWidth":6},
 "encoding":{
  "x":{"field":"i1","type":"quantitative","scale":{"domain":[-0.4,244.8],"nice":false,"zero":false},"axis":{"orient":"bottom","values":[11.1,27.9,47.1,65.0,83.2,101.2,119.2,137.0,155.0,173.1,191.3,208.1,227.3],"labels":false,"tickSize":4}},
  "x2":{"field":"i2"},
  "y":{"field":"r","type":"quantitative","scale":{"domain":[22.4,82.7],"nice":false,"zero":false},"axis":{"orient":"right","values":[30,40,50,60,70,80],"format":".4f"}}
 }},
{"data":{"name":"rsinote"},"mark":{"type":"text","fontSize":15,"font":"Noto Sans CJK SC","color":"#e0504a","align":"center","baseline":"middle"},
 "encoding":{
  "x":{"field":"i","type":"quantitative","scale":{"domain":[-0.4,244.8],"nice":false,"zero":false},"axis":{"orient":"bottom","values":[11.1,27.9,47.1,65.0,83.2,101.2,119.2,137.0,155.0,173.1,191.3,208.1,227.3],"labels":false,"tickSize":4}},
  "y":{"field":"r","type":"quantitative","scale":{"domain":[22.4,82.7],"nice":false,"zero":false},"axis":{"orient":"right","values":[30,40,50,60,70,80],"format":".4f"}},
  "text":{"field":"t"}
 }}
]
}
]
}
